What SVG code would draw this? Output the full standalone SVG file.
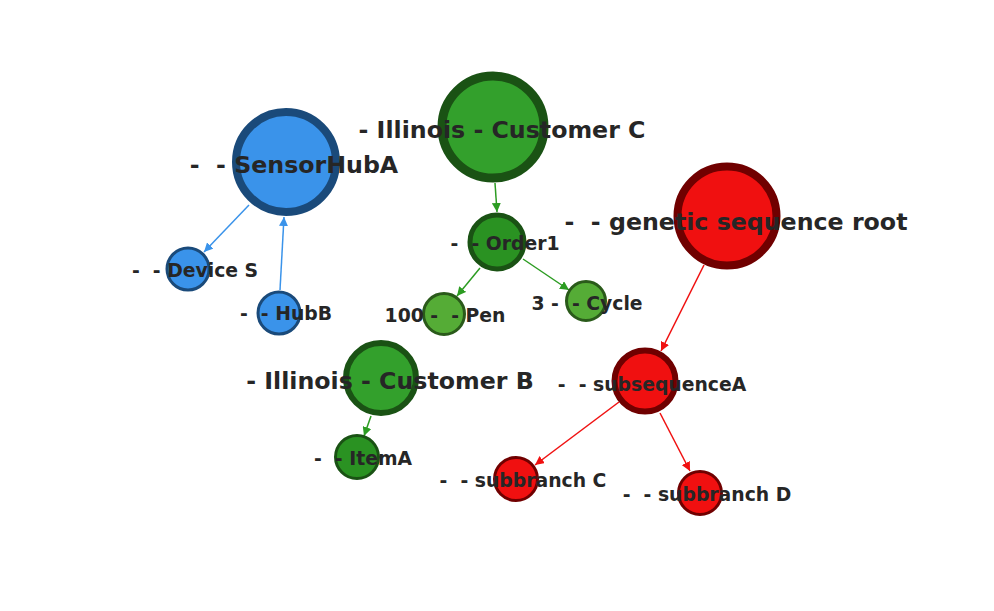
<svg xmlns="http://www.w3.org/2000/svg" width="994" height="611" viewBox="0 0 994 611">
<defs>
<marker id="ab" viewBox="0 0 10 10" refX="10" refY="5" markerWidth="9" markerHeight="9" markerUnits="userSpaceOnUse" orient="auto"><path d="M0,0 L10,5 L0,10 z" fill="#3a93ea"/></marker>
<marker id="ag" viewBox="0 0 10 10" refX="10" refY="5" markerWidth="9" markerHeight="9" markerUnits="userSpaceOnUse" orient="auto"><path d="M0,0 L10,5 L0,10 z" fill="#2c9c22"/></marker>
<marker id="ar" viewBox="0 0 10 10" refX="10" refY="5" markerWidth="9" markerHeight="9" markerUnits="userSpaceOnUse" orient="auto"><path d="M0,0 L10,5 L0,10 z" fill="#f01010"/></marker>
</defs>
<style>
.lbl{font-family:"DejaVu Sans",sans-serif;font-weight:bold;fill:#262626;text-anchor:middle;white-space:pre}
.big{font-size:23.7px}
.sm{font-size:18.8px}
.blue{fill:#3a93ea;stroke:#1a4a7a}
.gbig{fill:#33a02c;stroke:#1a5214}
.gmid{fill:#2a9222;stroke:#1a5214}
.glt{fill:#55ac36;stroke:#2a5a1a}
.red{fill:#f01010;stroke:#700000}
.eb{stroke:#3a93ea;stroke-width:1.5;fill:none;marker-end:url(#ab)}
.eg{stroke:#2c9c22;stroke-width:1.5;fill:none;marker-end:url(#ag)}
.er{stroke:#f01010;stroke-width:1.5;fill:none;marker-end:url(#ar)}
</style>
<rect width="994" height="611" fill="#ffffff"/>
<g id="edges">
<line class="eb" x1="249" y1="205" x2="204" y2="252"/>
<line class="eb" x1="280" y1="290" x2="284" y2="217"/>
<line class="eg" x1="495" y1="183" x2="497" y2="212"/>
<line class="eg" x1="480" y1="268" x2="457" y2="296"/>
<line class="eg" x1="523" y1="259" x2="569" y2="290"/>
<line class="er" x1="704" y1="265" x2="661" y2="351"/>
<line class="er" x1="619" y1="402" x2="535" y2="465"/>
<line class="er" x1="660" y1="413" x2="690" y2="471"/>
<line class="eg" x1="371" y1="416" x2="364" y2="436"/>
</g>
<g id="n-sensorhuba"><circle class="blue" cx="286" cy="162" r="50" stroke-width="8"/></g>
<g id="n-devices"><circle class="blue" cx="188" cy="269" r="21" stroke-width="3"/></g>
<g id="n-hubb"><circle class="blue" cx="279" cy="313" r="21" stroke-width="3"/></g>
<g id="n-customerc"><circle class="gbig" cx="493" cy="127" r="51" stroke-width="9"/></g>
<g id="n-order1"><circle class="gmid" cx="497" cy="242" r="27" stroke-width="5"/></g>
<g id="n-pen"><circle class="glt" cx="444" cy="314" r="20.5" stroke-width="3"/></g>
<g id="n-cycle"><circle class="glt" cx="586" cy="301" r="19.5" stroke-width="3"/></g>
<g id="n-genroot"><circle class="red" cx="727" cy="216" r="49.5" stroke-width="8"/></g>
<g id="n-subseqa"><circle class="red" cx="645" cy="381" r="30.5" stroke-width="6"/></g>
<g id="n-subc"><circle class="red" cx="516" cy="479" r="21.5" stroke-width="3"/></g>
<g id="n-subd"><circle class="red" cx="700" cy="493" r="21.5" stroke-width="3"/></g>
<g id="n-customerb"><circle class="gbig" cx="381" cy="378" r="35" stroke-width="6"/></g>
<g id="n-itema"><circle class="gmid" cx="357" cy="457" r="21.5" stroke-width="3"/></g>
<g id="labels">
<text class="lbl big" x="294" y="173">-  - SensorHubA</text>
<text class="lbl big" x="502" y="138">- Illinois - Customer C</text>
<text class="lbl big" x="736" y="230">-  - genetic sequence root</text>
<text class="lbl big" x="390" y="389">- Illinois - Customer B</text>
<text class="lbl sm" x="505" y="250">-  - Order1</text>
<text class="lbl sm" x="195" y="277">-  - Device S</text>
<text class="lbl sm" x="286" y="320">-  - HubB</text>
<text class="lbl sm" x="445" y="322">100 -  - Pen</text>
<text class="lbl sm" x="587" y="310">3 -  - Cycle</text>
<text class="lbl sm" x="652" y="391">-  - subsequenceA</text>
<text class="lbl sm" x="363" y="465">-  - ItemA</text>
<text class="lbl sm" x="523" y="487">-  - subbranch C</text>
<text class="lbl sm" x="707" y="501">-  - subbranch D</text>
</g>
</svg>
